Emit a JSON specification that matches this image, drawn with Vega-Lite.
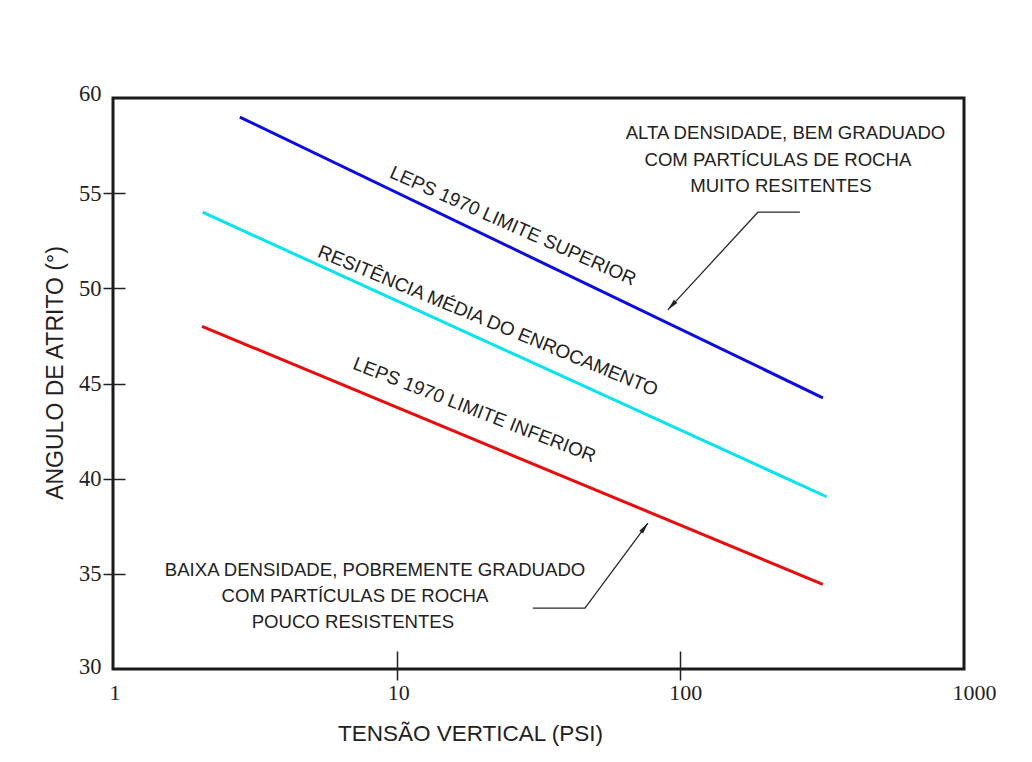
{
  "$schema": "https://vega.github.io/schema/vega-lite/v6.json",
  "width": 851,
  "height": 571,
  "autosize": "none",
  "padding": {"left": 113, "top": 98, "right": 68, "bottom": 93},
  "background": "#ffffff",
  "config": {
    "view": {"stroke": "#1a1a1a", "strokeWidth": 3},
    "axis": {"grid": false},
    "text": {"font": "Liberation Sans", "color": "#222222"}
  },
  "datasets": {
    "curves": [
      {"series": "sup", "tensao": 2.8, "atrito": 59.0},
      {"series": "sup", "tensao": 318, "atrito": 44.25},
      {"series": "med", "tensao": 2.07, "atrito": 54.0},
      {"series": "med", "tensao": 328, "atrito": 39.05},
      {"series": "inf", "tensao": 2.06, "atrito": 48.0},
      {"series": "inf", "tensao": 318, "atrito": 34.45}
    ],
    "curveLabels": [
      {"series": "sup", "text": "LEPS 1970 LIMITE SUPERIOR", "tensao": 25.7, "atrito": 53.28},
      {"series": "med", "text": "RESITÊNCIA MÉDIA DO ENROCAMENTO", "tensao": 20.98, "atrito": 48.29},
      {"series": "inf", "text": "LEPS 1970 LIMITE INFERIOR", "tensao": 18.8, "atrito": 43.61}
    ],
    "notes": [
      {"note": "alta", "text": "ALTA DENSIDADE, BEM GRADUADO", "tensao": 234.8, "atrito": 57.85},
      {"note": "alta", "text": "COM PARTÍCULAS DE ROCHA", "tensao": 220.8, "atrito": 56.43},
      {"note": "alta", "text": "MUITO RESITENTES", "tensao": 226.2, "atrito": 55.07},
      {"note": "baixa", "text": "BAIXA DENSIDADE, POBREMENTE GRADUADO", "tensao": 8.39, "atrito": 34.89},
      {"note": "baixa", "text": "COM PARTÍCULAS DE ROCHA", "tensao": 7.13, "atrito": 33.52},
      {"note": "baixa", "text": "POUCO RESISTENTES", "tensao": 7.01, "atrito": 32.15}
    ],
    "leaders": [
      {"note": "alta", "step": 1, "tensao": 264, "atrito": 54.0},
      {"note": "alta", "step": 2, "tensao": 187.7, "atrito": 54.0},
      {"note": "alta", "step": 3, "tensao": 90.4, "atrito": 48.87},
      {"note": "baixa", "step": 1, "tensao": 30.2, "atrito": 33.2},
      {"note": "baixa", "step": 2, "tensao": 46.1, "atrito": 33.2},
      {"note": "baixa", "step": 3, "tensao": 76.9, "atrito": 37.67}
    ]
  },
  "encoding": {
    "x": {"field": "tensao", "type": "quantitative", "scale": {"type": "log", "domain": [1, 1000], "nice": false}, "axis": null},
    "y": {"field": "atrito", "type": "quantitative", "scale": {"domain": [30, 60], "nice": false, "zero": false}, "axis": null}
  },
  "layer": [
    {
      "data": {"name": "curves"},
      "mark": {"type": "line", "strokeWidth": 3},
      "encoding": {
        "x": {
          "field": "tensao", "type": "quantitative",
          "scale": {"type": "log", "domain": [1, 1000], "nice": false},
          "axis": {
            "orient": "bottom", "values": [1, 10, 100, 1000], "format": "d",
            "ticks": false, "tickSize": 0, "domain": false, "labelFlush": false,
            "labelFont": "Liberation Serif", "labelFontSize": 22, "labelColor": "#222222",
            "labelPadding": 13,
            "labelOffset": {"condition": [{"test": "datum.value == 100", "value": 5}, {"test": "datum.value == 1000", "value": 10}], "value": 1.5},
            "title": "TENSÃO VERTICAL (PSI)", "titleFont": "Liberation Sans", "titleFontSize": 22.5,
            "titleFontWeight": "normal", "titleColor": "#222222",
            "titleX": 357, "titleY": 71, "titleAlign": "center", "titleBaseline": "alphabetic"
          }
        },
        "y": {
          "field": "atrito", "type": "quantitative",
          "scale": {"domain": [30, 60], "nice": false, "zero": false},
          "axis": {
            "orient": "left", "values": [30, 35, 40, 45, 50, 55, 60],
            "ticks": false, "tickSize": 0, "domain": false, "labelFlush": false,
            "labelFont": "Liberation Serif", "labelFontSize": 22.5, "labelColor": "#222222",
            "labelPadding": 12,
            "labelOffset": {"condition": [{"test": "datum.value == 60", "value": -5}, {"test": "datum.value == 30", "value": -3}], "value": 0},
            "title": "ANGULO DE ATRITO (°)", "titleFont": "Liberation Sans", "titleFontSize": 23,
            "titleFontWeight": "normal", "titleColor": "#222222",
            "titleX": -51, "titleY": 274.5, "titleAngle": 270, "titleAlign": "center", "titleBaseline": "alphabetic"
          }
        },
        "color": {
          "field": "series", "type": "nominal",
          "scale": {"domain": ["sup", "med", "inf"], "range": ["#0a0ae6", "#00e5ef", "#ee0a0a"]},
          "legend": null
        }
      }
    },
    {
      "data": {"name": "leaders"},
      "mark": {"type": "line", "strokeWidth": 1.3, "color": "#2a2a2a"},
      "encoding": {
        "x": {
          "field": "tensao", "type": "quantitative",
          "scale": {"type": "log", "domain": [1, 1000], "nice": false},
          "axis": {
            "orient": "bottom", "values": [10, 100], "offset": -18, "tickSize": 29,
            "tickWidth": 1.5, "tickColor": "#222222", "labels": false, "domain": false, "title": null
          }
        },
        "y": {
          "field": "atrito", "type": "quantitative",
          "scale": {"domain": [30, 60], "nice": false, "zero": false},
          "axis": {
            "orient": "left", "values": [35, 40, 45, 50, 55], "offset": -12, "tickSize": 22,
            "tickWidth": 1.5, "tickColor": "#222222", "labels": false, "domain": false, "title": null
          }
        },
        "detail": {"field": "note"},
        "order": {"field": "step"}
      }
    },
    {
      "data": {"name": "leaders"},
      "transform": [{"filter": "datum.note == 'alta' && datum.step == 3"}],
      "mark": {"type": "point", "shape": "M0,0L0.5,2.4L-0.5,2.4Z", "size": 90, "filled": true, "opacity": 1, "strokeWidth": 0, "color": "#222222", "angle": 222.6}
    },
    {
      "data": {"name": "leaders"},
      "transform": [{"filter": "datum.note == 'baixa' && datum.step == 3"}],
      "mark": {"type": "point", "shape": "M0,0L0.5,2.4L-0.5,2.4Z", "size": 90, "filled": true, "opacity": 1, "strokeWidth": 0, "color": "#222222", "angle": 36.5}
    },
    {
      "data": {"name": "curveLabels"},
      "transform": [{"filter": "datum.series == 'sup'"}],
      "mark": {"type": "text", "fontSize": 19, "align": "center", "baseline": "middle", "angle": 24},
      "encoding": {"text": {"field": "text"}}
    },
    {
      "data": {"name": "curveLabels"},
      "transform": [{"filter": "datum.series == 'med'"}],
      "mark": {"type": "text", "fontSize": 19, "align": "center", "baseline": "middle", "angle": 22.5},
      "encoding": {"text": {"field": "text"}}
    },
    {
      "data": {"name": "curveLabels"},
      "transform": [{"filter": "datum.series == 'inf'"}],
      "mark": {"type": "text", "fontSize": 19, "align": "center", "baseline": "middle", "angle": 21.3},
      "encoding": {"text": {"field": "text"}}
    },
    {
      "data": {"name": "notes"},
      "mark": {"type": "text", "fontSize": 18.6, "align": "center", "baseline": "alphabetic"},
      "encoding": {"text": {"field": "text"}}
    }
  ],
  "resolve": {"axis": {"x": "independent", "y": "independent"}}
}
